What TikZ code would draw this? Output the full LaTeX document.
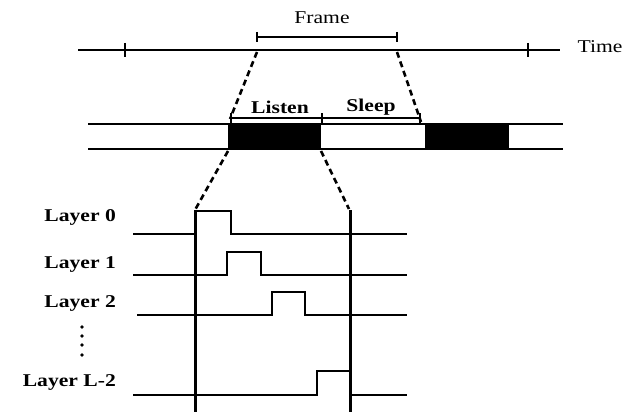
\documentclass[tikz,border=0pt]{standalone}
\usepackage{fontspec}
\usepackage{graphicx}
\setmainfont{Liberation Serif}
\newcommand{\wtxt}[1]{\scalebox{1.2}[1]{#1}}
\begin{document}
\begin{tikzpicture}[x=1pt,y=-1pt,
  line/.style={line width=2.4pt},
  thick line/.style={line width=3pt},
  dashline/.style={line width=2.6pt,dash pattern=on 6pt off 4pt},
  lbl/.style={inner sep=0pt,font=\fontsize{18}{18}\selectfont},
  blbl/.style={inner sep=0pt,font=\fontsize{18}{18}\selectfont\bfseries},
  fillbox/.style={fill=black,draw=none}]
\useasboundingbox (0,0) rectangle (639,412);
% Time axis
\coordinate (t0) at (78,50);
\coordinate (t1) at (560,50);
\draw[line] (t0) -- (t1);
\coordinate (tk1a) at (125,43); \coordinate (tk1b) at (125,57);
\coordinate (tk2a) at (528,43); \coordinate (tk2b) at (528,57);
\draw[line] (tk1a) -- (tk1b);
\draw[line] (tk2a) -- (tk2b);
\node[lbl] (time) at (600,47) {\wtxt{Time}};
% Frame bracket
\coordinate (fa) at (257,37); \coordinate (fb) at (397,37);
\draw[line] (fa) -- (fb);
\draw[line] (257,32) -- (257,42);
\draw[line] (397,32) -- (397,42);
\node[lbl] (frame) at (322,18) {\wtxt{Frame}};
% band
\coordinate (b0) at (88,124); \coordinate (b1) at (563,124);
\coordinate (c0) at (88,149); \coordinate (c1) at (563,149);
\draw[line] (b0) -- (b1);
\draw[line] (c0) -- (c1);
\fill[fillbox] (228,124) rectangle (321,149);
\fill[fillbox] (425,124) rectangle (509,149);
% Listen / Sleep bracket
\coordinate (la) at (231,118); \coordinate (lb) at (420,118);
\draw[line] (la) -- (lb);
\draw[line] (231,113) -- (231,123);
\draw[line] (322,113) -- (322,124);
\draw[line] (420,113) -- (420,123);
\node[blbl] (listen) at (280,107) {\wtxt{Listen}};
\node[blbl] (sleep) at (371,107) {\wtxt{Sleep}};
% zoom dashed lines
\coordinate (z1a) at (257,52); \coordinate (z1b) at (230,119);
\coordinate (z2a) at (397,52); \coordinate (z2b) at (421,122);
\draw[dashline] (z1a) -- (z1b);
\draw[dashline] (z2a) -- (z2b);
\coordinate (z3a) at (228,151); \coordinate (z3b) at (195,210);
\coordinate (z4a) at (321,151); \coordinate (z4b) at (349,209);
\draw[dashline] (z3a) -- (z3b);
\draw[dashline] (z4a) -- (z4b);
% vertical lines
\coordinate (v1a) at (195,210); \coordinate (v1b) at (195,412);
\coordinate (v2a) at (350,210); \coordinate (v2b) at (350,412);
\draw[thick line] (v1a) -- (v1b);
\draw[thick line] (v2a) -- (v2b);
% layers
\draw[line] (133,234) -- (195,234);
\draw[line] (195,211) -- (231,211) -- (231,234) -- (407,234);
\draw[line] (133,275) -- (227,275) -- (227,252) -- (261,252) -- (261,275) -- (407,275);
\draw[line] (137,315) -- (272,315) -- (272,292) -- (305,292) -- (305,315) -- (407,315);
\draw[line] (133,395) -- (317,395) -- (317,371) -- (349,371);
\draw[line] (350,395) -- (407,395);
\node[blbl,anchor=east] (l0) at (116,217) {\wtxt{Layer 0}};
\node[blbl,anchor=east] (l1) at (116,264) {\wtxt{Layer 1}};
\node[blbl,anchor=east] (l2) at (116,303) {\wtxt{Layer 2}};
\node[blbl,anchor=east] (l3) at (116,382) {\wtxt{Layer L-2}};
\foreach \yy/\nm in {327/d1,336/d2,345/d3,355/d4}
  \fill (82,\yy) circle (1.8pt) coordinate (\nm);
\end{tikzpicture}
\end{document}
